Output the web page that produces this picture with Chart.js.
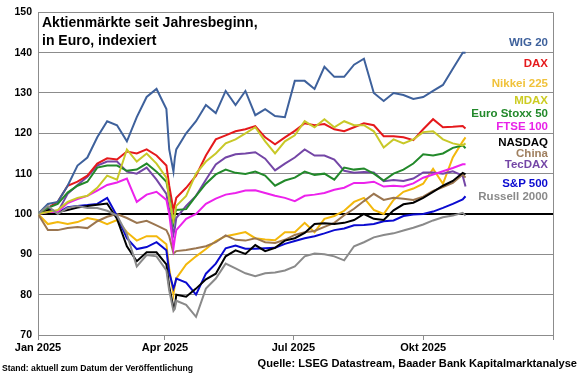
<!DOCTYPE html>
<html>
<head>
<meta charset="utf-8">
<script src="https://cdn.jsdelivr.net/npm/chart.js@4.4.1/dist/chart.umd.min.js"></script>
<style>
  body { margin: 0; background: #fff; }
  #wrap { position: relative; width: 580px; height: 375px; font-family: Arial, "Liberation Sans", sans-serif; }
  #chart { position: absolute; left: 0; top: 0; }
  .txt { position: absolute; font-weight: bold; white-space: nowrap; }
  #title { left: 42px; top: 13px; font-size: 14px; line-height: 18px; color: #000; }
  .lbl { right: 32px; font-size: 11.5px; line-height: 12px; text-align: right; }
  #stand { left: 2px; top: 363px; font-size: 8.6px; color: #000; }
  #quelle { right: 3px; top: 357px; font-size: 11.1px; color: #000; }
</style>
</head>
<body>
<div id="wrap">
  <canvas id="chart" width="580" height="375"></canvas>
  <div id="title" class="txt">Aktienmärkte seit Jahresbeginn,<br>in Euro, indexiert</div>
  <div id="labels"></div>
  <div id="stand" class="txt">Stand: aktuell zum Datum der Veröffentlichung</div>
  <div id="quelle" class="txt">Quelle: LSEG Datastream, Baader Bank Kapitalmarktanalyse</div>
</div>
<script>
// Tage seit 1. Januar 2025
const days = [0, 7, 14, 21, 28, 35, 42, 49, 56, 63, 70, 77, 84, 91, 93, 96, 97, 98,
  105, 112, 119, 126, 133, 140, 147, 154, 161, 168, 175, 182, 189, 196, 203, 210, 217,
  224, 231, 238, 245, 252, 259, 266, 273, 280, 287, 294, 301, 303];

const tickDays = [0, 90, 181, 273, 365];
const tickLabels = ['Jan 2025', 'Apr 2025', 'Jul 2025', 'Okt 2025', ''];

const seriesNames = ['WIG 20', 'DAX', 'Nikkei 225', 'MDAX', 'Euro Stoxx 50', 'FTSE 100',
  'NASDAQ', 'China', 'TecDAX', 'S&P 500', 'Russell 2000'];

const wig20 = [100, 102.5, 103, 107, 112, 114, 119, 123, 122, 118, 124, 129, 131, 126, 116, 110.5, 114, 116,
  120, 123, 127, 125, 130.5, 127, 130.5, 124.5, 126, 124.3, 124, 133, 133, 131, 136.5, 134, 134,
  137, 138.5, 130, 128, 130, 129.5, 128.5, 129, 130.5, 132, 136, 140, 140];
const dax = [100, 101.5, 103, 107, 108, 109.5, 112.5, 113.8, 113.5, 115.5, 115, 116, 114.5, 112, 107, 101, 102.5, 104,
  106.5, 109.5, 114.5, 118.5, 119.5, 120.5, 121, 121.8, 119, 117.3, 119, 120.6, 122.5, 122, 122.3, 121, 120.5,
  121.5, 122.5, 122, 119.3, 119.3, 119, 118.3, 121, 123.5, 121.5, 121.6, 121.8, 121.2];
const nikkei = [100, 97.5, 98, 97.5, 98, 99, 98.5, 97.5, 98.5, 95.5, 93.4, 94.5, 94.5, 92.5, 86.5, 80, 82.5, 84,
  87.5, 89.5, 91.3, 93.3, 94.5, 95, 95.5, 94, 93.7, 93.5, 95.5, 95.5, 97.8, 95.5, 98.8, 99.5, 100.8,
  103, 104, 101, 100, 103.5, 105.5, 106.3, 107.5, 111.2, 107.5, 114, 118, 119];
const mdax = [100, 100.5, 101, 103, 104, 104.5, 106.5, 109.5, 108.5, 116, 113, 115, 112.5, 109, 103.5, 98.5, 100, 102,
  104.5, 110, 113, 115, 117.5, 118.5, 120, 121.5, 118, 115, 118, 119.5, 123, 121.5, 123.5, 121.5, 123,
  122, 122, 120.5, 116.5, 118.5, 117.5, 118.5, 120.3, 120.5, 118.5, 117.5, 117, 117.5];
const euroStoxx = [100, 101.5, 102.5, 105.3, 107, 108, 111.5, 112, 112, 110.7, 111, 112.5, 110.5, 108, 104.5, 97.8, 100, 101,
  101.2, 104.5, 107.5, 109.8, 111, 110.2, 109.9, 110.5, 109.5, 107, 108.3, 109, 110.5, 109.7, 110, 108.5, 111.5,
  111, 111.3, 110, 108.3, 110, 111, 112.5, 114.8, 114.5, 115, 116.4, 117, 116.3];
const ftse = [100, 100.5, 100.5, 102.7, 103.7, 104.5, 105.8, 107.2, 107.8, 108.8, 103, 104.8, 105.5, 103.5, 100, 91.5, 94, 96,
  98.8, 100, 102.5, 103.8, 104.8, 105.2, 105.8, 105.9, 105.2, 104.5, 104, 103.2, 104.5, 104.8, 105.2, 106, 106.5,
  107.7, 107.7, 108, 106.8, 107, 106.8, 107.6, 109, 109.8, 110.6, 111.4, 112.3, 112.3];
const nasdaq = [100, 101, 100.5, 101, 101.6, 102, 102.3, 102.6, 98.8, 92, 88.3, 90.5, 90.5, 87.5, 82, 76.8, 77, 80,
  79.5, 81.5, 83.8, 85.2, 89.5, 91, 90.1, 92.3, 90.8, 91.6, 93.4, 94, 95.3, 97.5, 97.7, 97.5, 97.8,
  98.5, 100, 98.8, 98.5, 100.9, 102.4, 102.8, 104, 105.5, 107, 108.2, 110.2, 109.8];
const china = [100, 96, 96, 96.5, 96.8, 96.5, 98.2, 99.3, 100, 99, 97.8, 98.3, 97.2, 96, 94.5, 90.3, 90.5, 90.8,
  91.1, 91.5, 92, 93, 94.7, 93.6, 93.4, 94, 93, 92.8, 93.6, 94.8, 95.5, 95.8, 96.8, 97.8, 99.7,
  101.3, 103.2, 105, 103.5, 104, 103.8, 103.5, 104.3, 105.7, 106.7, 107.7, 109.8, 109];
const tecdax = [100, 101, 100.5, 105, 107.2, 109.2, 112, 113, 113, 110.5, 110, 111.5, 108.5, 105, 101, 95, 96.5, 99,
  102, 104.5, 108.5, 112.3, 114, 114.8, 115, 115.3, 113.7, 110.8, 112.5, 114, 116, 114.5, 114.5, 113.5, 110.7,
  110.2, 110.4, 110.3, 108.1, 108.4, 108.2, 108.8, 110.3, 110.3, 110, 110.6, 109.5, 106.8];
const sp500 = [100, 101.5, 100.3, 101.7, 102, 102.2, 102.5, 104, 99.5, 94, 91.3, 91.8, 93, 91, 85.5, 81.5, 82.5, 84,
  83, 80, 85.2, 87.7, 91.5, 92.2, 91.4, 91.4, 91.5, 91.6, 92.6, 93.3, 94, 94.5, 95.2, 96, 96.4,
  97.2, 97.3, 97.5, 98.2, 98.4, 99.5, 99.9, 100, 100.6, 101.5, 102.5, 103.6, 104.4];
const russell = [100, 102, 100, 101.5, 102, 101.5, 101.5, 100.8, 99.6, 95, 87, 89.8, 89.5, 86, 81, 76, 76.5, 78.5,
  77.5, 74.5, 81.5, 84, 87.7, 86.5, 85.3, 84.6, 85.3, 85.5, 86, 87, 89.5, 90.2, 90, 89.5, 88.5,
  92, 93, 94.2, 94.8, 95.2, 95.9, 96.6, 97.4, 98.4, 99.2, 99.6, 100.3, 99.6];

const seriesValues = [wig20, dax, nikkei, mdax, euroStoxx, ftse, nasdaq, china, tecdax, sp500, russell];

// Farben und Position der Beschriftung rechts (Mitte in px)
const colors = ['#3e619c', '#e5191c', '#f3b80c', '#c8c828', '#22892a', '#ec22ec',
  '#000000', '#9b7650', '#7446a6', '#0a0ad0', '#8a8a8a'];
const labelColors = ['#3e619c', '#e5191c', '#f0c23a', '#cccc22', '#22892a', '#e822e8',
  '#000000', '#a08060', '#7446a6', '#0a0ad0', '#8a8a8a'];
const labelY = [42, 63, 83, 100, 113, 126, 142, 153, 164, 183, 196];
const drawOrder = [3, 4, 10, 1, 2, 5, 6, 8, 9, 7, 0];

const labelBox = document.getElementById('labels');
seriesNames.forEach((n, i) => {
  const d = document.createElement('div');
  d.className = 'txt lbl';
  d.style.top = (labelY[i] - 6) + 'px';
  d.style.color = labelColors[i];
  d.textContent = n;
  labelBox.appendChild(d);
});

const datasets = seriesNames.map((n, i) => ({
  label: n,
  data: days.map((d, k) => ({ x: d, y: seriesValues[i][k] })),
  borderColor: colors[i],
  backgroundColor: colors[i],
  borderWidth: 2,
  pointRadius: 0,
  tension: 0,
  order: drawOrder[i]
}));

const rightBorder = {
  id: 'rightBorder',
  afterDraw(chart) {
    const a = chart.chartArea, c = chart.ctx;
    c.save();
    c.strokeStyle = '#8c8c8c';
    c.lineWidth = 1;
    c.beginPath();
    c.moveTo(a.right + 0.5, a.top);
    c.lineTo(a.right + 0.5, a.bottom);
    c.stroke();
    c.restore();
  }
};

new Chart(document.getElementById('chart'), {
  type: 'line',
  data: { datasets: datasets },
  options: {
    responsive: false,
    animation: false,
    layout: { padding: { left: 0, right: 27, top: 10, bottom: 20 } },
    plugins: { legend: { display: false }, tooltip: { enabled: false } },
    scales: {
      x: {
        type: 'linear',
        min: 0,
        max: 365,
        afterBuildTicks: s => { s.ticks = tickDays.map(v => ({ value: v })); },
        afterFit: s => { s.height = 20; },
        ticks: {
          autoSkip: false,
          maxRotation: 0,
          padding: 1,
          color: '#000',
          font: { family: 'Arial, "Liberation Sans"', size: 11, weight: 'bold' },
          callback: v => tickLabels[tickDays.indexOf(v)]
        },
        grid: { drawOnChartArea: false, drawTicks: true, tickLength: 5, color: '#8c8c8c' },
        border: { color: '#8c8c8c' }
      },
      y: {
        min: 70,
        max: 150,
        afterFit: s => { s.width = 38; },
        ticks: {
          stepSize: 10,
          padding: 6,
          color: '#000',
          font: { family: 'Arial, "Liberation Sans"', size: 10.5, weight: 'bold' }
        },
        grid: {
          drawTicks: false,
          color: c => c.tick.value === 100 ? '#000' : '#8c8c8c',
          lineWidth: c => c.tick.value === 100 ? 2 : 1
        },
        border: { color: '#8c8c8c' }
      }
    }
  },
  plugins: [rightBorder]
});
</script>
</body>
</html>
